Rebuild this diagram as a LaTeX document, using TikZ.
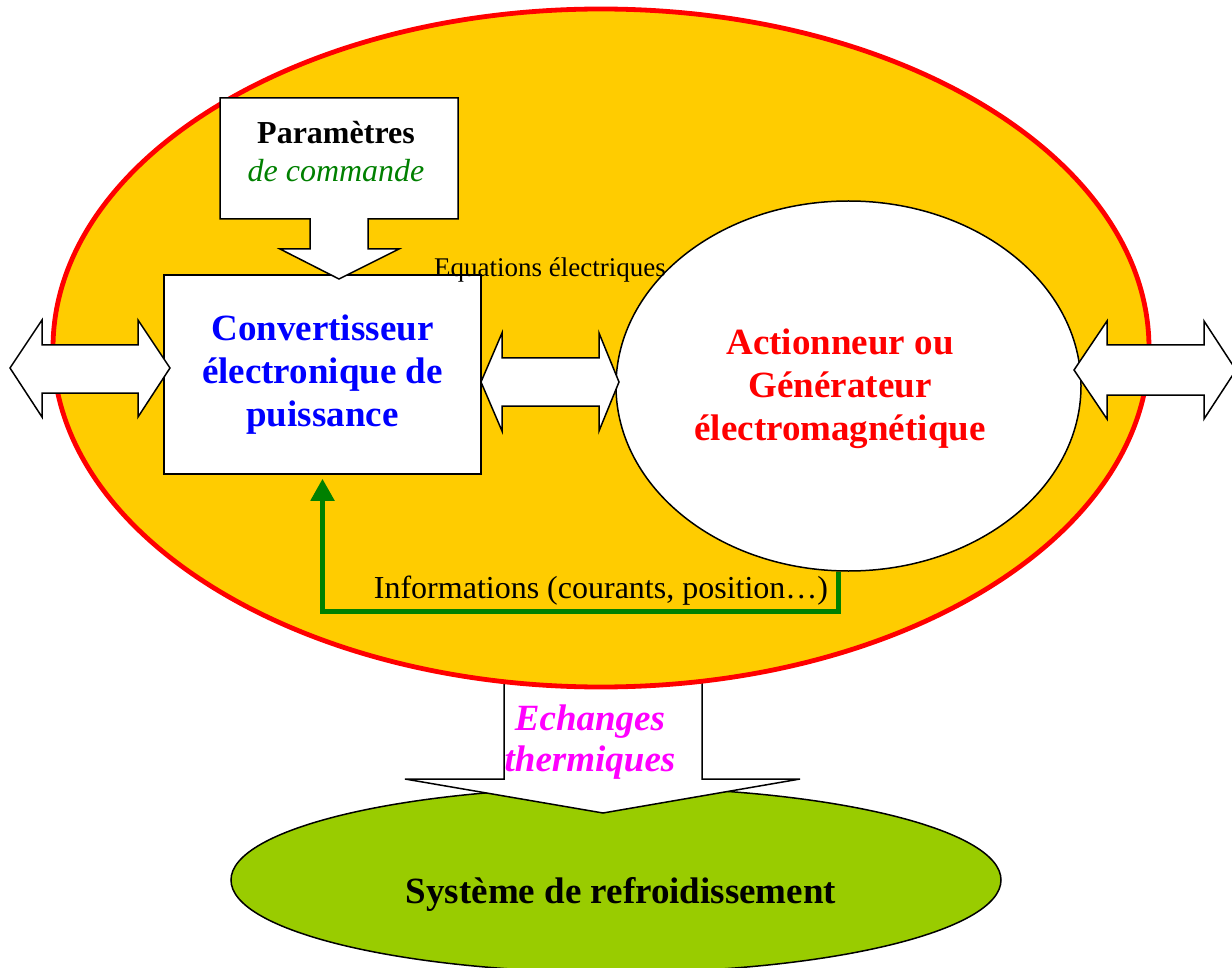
\documentclass[tikz,border=0pt]{standalone}
\usepackage{fontspec}
\setmainfont{Liberation Serif}
\usetikzlibrary{shapes.geometric,arrows.meta}
\definecolor{sysyellow}{HTML}{FFCC00}
\definecolor{coolgreen}{HTML}{99CC00}
\definecolor{infogreen}{HTML}{008000}
\definecolor{magentatxt}{HTML}{FF00FF}
\definecolor{bluetxt}{HTML}{0000FF}
\definecolor{redtxt}{HTML}{FF0000}
\begin{document}
\begin{tikzpicture}[x=1pt,y=-1pt,
  outl/.style={draw=black, line width=1.5pt, fill=white, line join=miter},
  bigtxt/.style={font=\fontsize{37}{43}\selectfont\bfseries, align=center},
  midtxt/.style={font=\fontsize{32}{38}\selectfont},
  smalltxt/.style={font=\fontsize{27}{32}\selectfont},
  fb/.style={draw=infogreen, line width=5pt, line join=miter, -{Triangle[length=22pt,width=23pt]}}]
\useasboundingbox (0,0) rectangle (1232,968);
% cooling system
\node[ellipse, draw=black, line width=1.5pt, fill=coolgreen, minimum width=770pt, minimum height=185pt, inner sep=0pt] (cool) at (616,880) {};
% thermal exchange arrow
\draw[outl] (504,650) -- (504,779) -- (405,779) -- (603,813) -- (800,779) -- (702,779) -- (702,650) -- cycle;
% system ellipse
\node[ellipse, draw=redtxt, line width=4.8pt, fill=sysyellow, minimum width=1096pt, minimum height=678pt, inner sep=0pt] (sys) at (601,348) {};
\node[bigtxt, text=magentatxt, font=\fontsize{37}{41}\selectfont\bfseries\itshape] (ech) at (590,742) {Echanges\\thermiques};
% converter box
\node[outl, rectangle, minimum width=317pt, minimum height=199pt, inner sep=0pt, bigtxt, text=bluetxt] (conv) at (322.5,374.5) {Convertisseur\\électronique de\\puissance};
% command parameters callout
\draw[outl] (220,98) -- (458,98) -- (458,219) -- (368,219) -- (368,249) -- (399,249) -- (339,279) -- (280,249) -- (310,249) -- (310,219) -- (220,219) -- cycle;
\node[midtxt, align=center] (param) at (336,152) {\textbf{Paramètres}\\{\itshape\color{infogreen}de commande}};
% actuator ellipse
\node[ellipse, outl, minimum width=465pt, minimum height=370pt, inner sep=0pt] (act) at (848.5,386) {};
\node[bigtxt, text=redtxt] (acttxt) at (840,389) {Actionneur ou\\Générateur\\électromagnétique};
% double arrows
\draw[outl] (10,368) -- (42,320) -- (42,345) -- (138,345) -- (138,320) -- (170,368) -- (138,417) -- (138,393) -- (42,393) -- (42,417) -- cycle;
\draw[outl] (481,382) -- (502,333) -- (502,358) -- (599,358) -- (599,333) -- (619,382) -- (599,431) -- (599,406) -- (502,406) -- (502,431) -- cycle;
\draw[outl] (1074,370) -- (1107,321) -- (1107,345) -- (1204,345) -- (1204,321) -- (1236,370) -- (1204,419) -- (1204,395) -- (1107,395) -- (1107,419) -- cycle;
\node[smalltxt, anchor=base] (eq) at (550,277) {Equations électriques};
% feedback
\coordinate (fbc) at (838,611);
\draw[fb] ([xshift=-10.5pt]act.south) -- (fbc) -| ([yshift=-4pt]conv.south);
\node[midtxt, anchor=base] (info) at (601,598) {Informations (courants, position…)};
\node[bigtxt, anchor=base] (cooltxt) at (621,903) {Système de refroidissement};
\end{tikzpicture}
\end{document}
